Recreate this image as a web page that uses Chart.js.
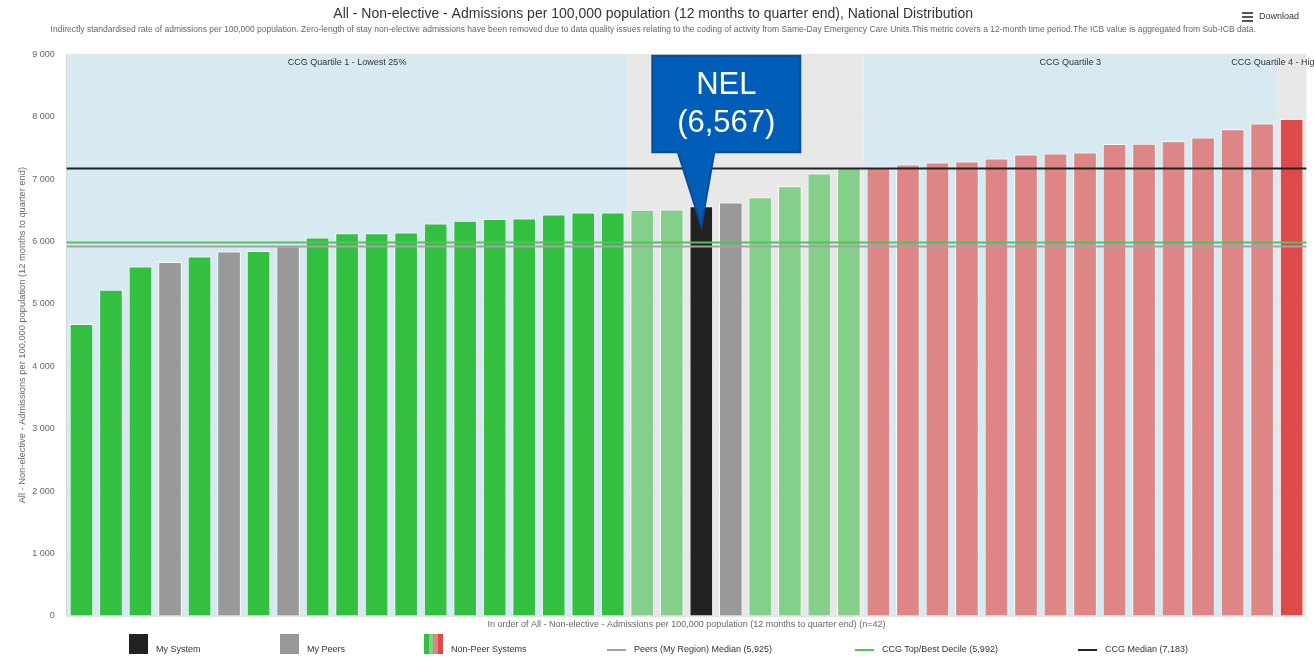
<!DOCTYPE html>
<html>
<head>
<meta charset="utf-8">
<title>Non-elective admissions - National Distribution</title>
<script src="https://cdn.jsdelivr.net/npm/chart.js@4.4.1/dist/chart.umd.min.js"></script>
<style>
    html, body { margin: 0; padding: 0; background: #fff; font-family: "Liberation Sans", Arial, sans-serif; }
    #wrap { position: relative; width: 1314px; height: 658px; overflow: hidden; }
    #distChart { position: absolute; left: 0; top: 0; }
    .download { position: absolute; left: 1242px; top: 10px; font-size: 9px; color: #333; line-height: 12px; }
    .download .burger { display: inline-block; width: 11px; height: 10px; vertical-align: middle; margin-right: 6px;
        background: linear-gradient(#555 0 2px, transparent 2px 4px, #555 4px 6px, transparent 6px 8px, #555 8px 10px); }
    .legend-item { position: absolute; top: 634px; font-size: 9px; color: #333; }
    .legend-item .sw { position: absolute; left: 0; top: 0; width: 19px; height: 20px; }
    .legend-item .ln { position: absolute; left: 0; top: 15px; width: 19px; height: 2px; }
    .legend-item .tx { position: absolute; top: 10px; white-space: nowrap; }
</style>
</head>
<body>
<div id="wrap">
    <canvas id="distChart" width="1314" height="658"></canvas>
    <div class="download"><span class="burger"></span>Download</div>
    <div id="legend"></div>
</div>
<script>
// Systems ranked by admissions rate (lowest first)
const ranks = [1, 2, 3, 4, 5, 6, 7, 8, 9, 10, 11, 12, 13, 14, 15, 16, 17, 18, 19, 20, 21,
    22, 23, 24, 25, 26, 27, 28, 29, 30, 31, 32, 33, 34, 35, 36, 37, 38, 39, 40, 41, 42];

const admissionRates = [4679, 5229, 5598, 5673, 5759, 5839, 5849, 5925, 6063, 6132, 6133,
    6143, 6287, 6335, 6362, 6368, 6432, 6466, 6467, 6510, 6512, 6567, 6624, 6709, 6886,
    7089, 7179, 7190, 7233, 7265, 7281, 7329, 7393, 7409, 7425, 7564, 7565, 7607, 7665,
    7799, 7890, 7965];

// 'self' = my system, 'peer' = my peers, 'other' = non-peer systems
const systemType = ['other', 'other', 'other', 'peer', 'other', 'peer', 'other', 'peer',
    'other', 'other', 'other', 'other', 'other', 'other', 'other', 'other', 'other', 'other',
    'other', 'other', 'other', 'self', 'peer', 'other', 'other', 'other', 'other', 'other',
    'other', 'other', 'other', 'other', 'other', 'other', 'other', 'other', 'other', 'other',
    'other', 'other', 'other', 'other'];

const mySystemName = 'NEL';

// quartile bands, by first and last rank index
const quartileLabels = ['CCG Quartile 1 - Lowest 25%', 'CCG Quartile 2', 'CCG Quartile 3', 'CCG Quartile 4 - Highest 25%'];
const quartileFrom = [0, 19, 27, 41];
const quartileTo = [18, 26, 40, 41];

const refLineLabels = ['Peers (My Region) Median', 'CCG Top/Best Decile', 'CCG Median'];
const refLineValues = [5925, 5992, 7183];

const yTicks = [0, 1000, 2000, 3000, 4000, 5000, 6000, 7000, 8000, 9000];

const quartileColors = ['#33bf40', '#84d08b', '#de8585', '#dc4a4a'];
const bandColors = ['#d7eaf2', '#e8e8e8', '#d7eaf2', '#e8e8e8'];
const refLineColors = ['#a3a3a3', '#52c35c', '#222222'];
const peerColor = '#999999';
const selfColor = '#222222';

const titleText = 'All - Non-elective - Admissions per 100,000 population (12 months to quarter end), National Distribution';
const subtitleText = 'Indirectly standardised rate of admissions per 100,000 population. Zero-length of stay non-elective admissions have been removed due to data quality issues relating to the coding of activity from Same-Day Emergency Care Units.This metric covers a 12-month time period.The ICB value is aggregated from Sub-ICB data.';
const axisTitle = 'All - Non-elective - Admissions per 100,000 population (12 months to quarter end)';

function quartileOf(i) {
    for (let q = 0; q < quartileFrom.length; q++) {
        if (i >= quartileFrom[q] && i <= quartileTo[q]) return q;
    }
    return 0;
}

const barColors = admissionRates.map((v, i) => {
    if (systemType[i] === 'self') return selfColor;
    if (systemType[i] === 'peer') return peerColor;
    return quartileColors[quartileOf(i)];
});

function formatThousands(v) {
    return String(v).replace(/\B(?=(\d{3})+(?!\d))/g, ' ');
}

// Quartile background bands behind the grid
const bandPlugin = {
    id: 'quartileBands',
    beforeDraw(chart) {
        const { ctx, chartArea, scales: { x } } = chart;
        const half = (x.getPixelForValue(1) - x.getPixelForValue(0)) / 2;
        ctx.save();
        for (let q = 0; q < quartileFrom.length; q++) {
            const x0 = x.getPixelForValue(quartileFrom[q]) - half;
            const x1 = x.getPixelForValue(quartileTo[q]) + half;
            ctx.fillStyle = bandColors[q];
            ctx.fillRect(x0, chartArea.top, x1 - x0, chartArea.bottom - chartArea.top);
        }
        ctx.restore();
    }
};

// Median / decile lines and quartile captions over the bars
const overlayPlugin = {
    id: 'overlay',
    afterDatasetsDraw(chart) {
        const { ctx, chartArea, scales: { x, y } } = chart;
        ctx.save();
        refLineValues.forEach((v, i) => {
            const py = Math.round(y.getPixelForValue(v)) + 0.5;
            ctx.strokeStyle = refLineColors[i];
            ctx.lineWidth = 2;
            ctx.beginPath();
            ctx.moveTo(chartArea.left, py);
            ctx.lineTo(chartArea.right, py);
            ctx.stroke();
        });
        ctx.fillStyle = '#333';
        ctx.font = '9px "Liberation Sans", Arial, sans-serif';
        ctx.textAlign = 'center';
        ctx.textBaseline = 'middle';
        for (let q = 0; q < quartileLabels.length; q++) {
            const cx = (x.getPixelForValue(quartileFrom[q]) + x.getPixelForValue(quartileTo[q])) / 2;
            ctx.fillText(quartileLabels[q], cx, chartArea.top + 8);
        }
        ctx.restore();
    },
    // callout pointing at my system's bar
    afterDraw(chart) {
        const { ctx, chartArea } = chart;
        const idx = systemType.indexOf('self');
        const bar = chart.getDatasetMeta(0).data[idx];
        const tipX = bar.x, tipY = bar.y + 20;
        const left = tipX - 49, top = chartArea.top + 1.5, w = 148, h = 96.5;
        ctx.save();
        ctx.beginPath();
        ctx.moveTo(left, top);
        ctx.lineTo(left + w, top);
        ctx.lineTo(left + w, top + h);
        ctx.lineTo(tipX + 13, top + h);
        ctx.lineTo(tipX, tipY);
        ctx.lineTo(tipX - 23.5, top + h);
        ctx.lineTo(left, top + h);
        ctx.closePath();
        ctx.fillStyle = '#005eb8';
        ctx.fill();
        ctx.strokeStyle = '#0b4c94';
        ctx.lineWidth = 2;
        ctx.stroke();
        ctx.fillStyle = '#fff';
        ctx.font = '31px "Liberation Sans", Arial, sans-serif';
        ctx.textAlign = 'center';
        ctx.textBaseline = 'middle';
        ctx.fillText(mySystemName, left + w / 2, top + 30);
        ctx.fillText('(' + admissionRates[idx].toLocaleString('en-GB') + ')', left + w / 2, top + 68);
        ctx.restore();
    }
};

const ctx = document.getElementById('distChart').getContext('2d');
const distChart = new Chart(ctx, {
    type: 'bar',
    data: {
        labels: ranks,
        datasets: [{
            label: axisTitle,
            data: admissionRates,
            backgroundColor: barColors,
            borderColor: 'rgba(255, 255, 255, 0.85)',
            borderWidth: 1,
            barPercentage: 0.8,
            categoryPercentage: 1.0
        }]
    },
    options: {
        responsive: false,
        animation: false,
        layout: { padding: { top: 0, left: 0, right: 7.6, bottom: 28 } },
        plugins: {
            legend: { display: false },
            title: {
                display: true,
                text: titleText,
                color: '#333',
                font: { size: 14, family: '"Liberation Sans", Arial, sans-serif', weight: 'normal' },
                padding: { top: 5.4, bottom: 2 }
            },
            subtitle: {
                display: true,
                text: subtitleText,
                color: '#666',
                font: { size: 8.5, family: '"Liberation Sans", Arial, sans-serif' },
                padding: { top: 0, bottom: 19.9 }
            }
        },
        scales: {
            x: {
                grid: { display: false },
                border: { display: false },
                ticks: { display: false },
                title: {
                    display: true,
                    text: 'In order of ' + axisTitle + ' (n=' + ranks.length + ')',
                    color: '#666',
                    font: { size: 9, family: '"Liberation Sans", Arial, sans-serif' },
                    padding: { top: 2, bottom: 0 }
                },
                afterFit(scale) { scale.height = 14; }
            },
            y: {
                min: 0,
                max: 9000,
                afterBuildTicks(scale) { scale.ticks = yTicks.map(v => ({ value: v })); },
                grid: { color: '#e4e4e4', drawTicks: false },
                border: { display: true, color: '#cfd8dc' },
                ticks: {
                    padding: 12,
                    color: '#666',
                    font: { size: 9, family: '"Liberation Sans", Arial, sans-serif' },
                    callback: v => formatThousands(v)
                },
                title: {
                    display: true,
                    text: axisTitle,
                    color: '#666',
                    font: { size: 9.3, family: '"Liberation Sans", Arial, sans-serif' },
                    padding: { top: 17, bottom: 0 }
                },
                afterFit(scale) { scale.width = 66.7; }
            }
        }
    },
    plugins: [bandPlugin, overlayPlugin]
});

// Legend along the bottom
const legendItems = [
    { text: 'My System', swatch: selfColor, left: 129, textLeft: 27 },
    { text: 'My Peers', swatch: peerColor, left: 280, textLeft: 27 },
    { text: 'Non-Peer Systems', swatch: 'linear-gradient(90deg, ' + quartileColors[0] + ' 0 25%, ' + quartileColors[1] + ' 25% 50%, ' +
        quartileColors[2] + ' 50% 75%, ' + quartileColors[3] + ' 75% 100%)', left: 424, textLeft: 27 },
    { text: refLineLabels[0] + ' (' + refLineValues[0].toLocaleString('en-GB') + ')', line: refLineColors[0], left: 607, textLeft: 27 },
    { text: refLineLabels[1] + ' (' + refLineValues[1].toLocaleString('en-GB') + ')', line: refLineColors[1], left: 855, textLeft: 27 },
    { text: refLineLabels[2] + ' (' + refLineValues[2].toLocaleString('en-GB') + ')', line: refLineColors[2], left: 1078, textLeft: 27 }
];
const legendEl = document.getElementById('legend');
legendItems.forEach(item => {
    const div = document.createElement('div');
    div.className = 'legend-item';
    div.style.left = item.left + 'px';
    const mark = document.createElement('span');
    if (item.line) {
        mark.className = 'ln';
        mark.style.background = item.line;
    } else {
        mark.className = 'sw';
        mark.style.background = item.swatch;
    }
    const tx = document.createElement('span');
    tx.className = 'tx';
    tx.style.left = item.textLeft + 'px';
    tx.textContent = item.text;
    div.appendChild(mark);
    div.appendChild(tx);
    legendEl.appendChild(div);
});
</script>
</body>
</html>
